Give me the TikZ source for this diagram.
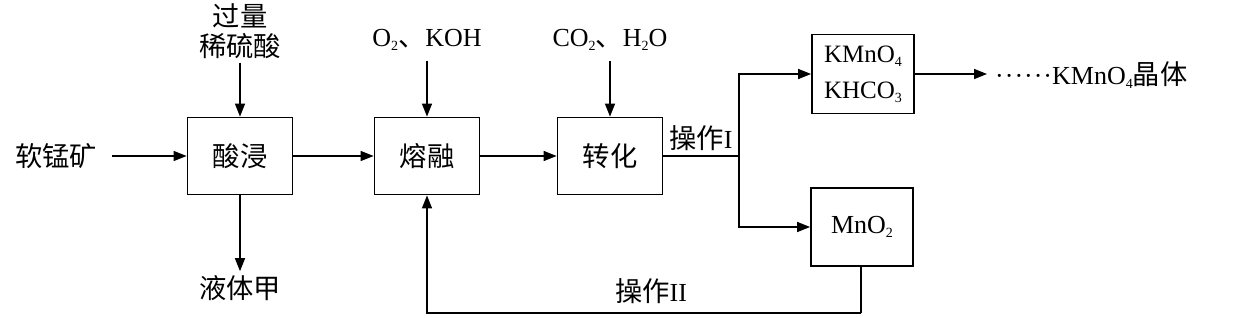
\documentclass[tikz,border=0pt]{standalone}
\usepackage{fontspec}
\setmainfont{Liberation Serif}
\newfontfamily\cjk[Scale=1.05]{Noto Sans CJK SC}
\usetikzlibrary{arrows.meta}
\newcommand\chsub[1]{\raisebox{-0.35ex}{\fontsize{14}{14}\selectfont #1}}
\tikzset{
  procbox/.style={draw, line width=1.8pt, minimum width=105pt, minimum height=77pt, inner sep=0pt, align=center},
  lbl/.style={inner sep=0pt, align=center},
  arr/.style={line width=1.5pt, -{Triangle[length=13pt,width=10pt]}},
  ln/.style={line width=1.5pt}
}
\begin{document}
\begin{tikzpicture}[x=1pt,y=-1pt,font=\fontsize{26}{28}\selectfont]
\useasboundingbox[fill=white] (0,0) rectangle (1244,318);
% boxes
\node[procbox] (b1) at (240,156) {\cjk 酸浸};
\node[procbox] (b2) at (427,156) {\cjk 熔融};
\node[procbox] (b3) at (610,156) {\cjk 转化};
\node[procbox, minimum width=102pt, minimum height=79pt, font=\fontsize{25}{36}\selectfont] (k) at (863,74) {KMnO\chsub{4}\\KHCO\chsub{3}};
\node[procbox, minimum width=102pt, minimum height=78pt] (m) at (862,227) {MnO\chsub{2}};
% labels
\node[lbl] (ore) at (56,156) {\cjk 软锰矿};
\node[lbl] (acid) at (240,31) {\cjk 过量\\[2pt]\cjk 稀硫酸};
\node[lbl] (liq) at (240,288) {\cjk 液体甲};
\node[lbl] (in2) at (427,40) {O\chsub{2}{\cjk 、}KOH};
\node[lbl] (in3) at (610,40) {CO\chsub{2}{\cjk 、}H\chsub{2}O};
\node[lbl] (op1) at (701,138) {{\cjk 操作}I};
\node[lbl] (op2) at (651,291) {{\cjk 操作}II};
\node[lbl, anchor=west] (cry) at (994,75) {\kern1pt·\kern1pt·\kern1pt·\kern1pt·\kern1pt·\kern1pt·KMnO\chsub{4}{\cjk 晶体}};
% coordinates
\coordinate (sp) at (739,156);
\coordinate (mb) at (861,313);
% connectors
\draw[arr, shorten <=15pt] (ore.east) -- (b1.west);
\draw[arr, shorten <=4pt] (acid.south) -- (b1.north);
\draw[arr, shorten >=4pt] (b1.south) -- (liq.north);
\draw[arr] (b1.east) -- (b2.west);
\draw[arr, shorten <=10pt] (in2.south) -- (b2.north);
\draw[arr] (b2.east) -- (b3.west);
\draw[arr, shorten <=10pt] (in3.south) -- (b3.north);
\draw[ln] (b3.east) -- (sp);
\draw[arr] (sp) |- (k.west);
\draw[arr] (sp) |- (m.west);
\draw[arr, shorten >=7pt] (k.east) -- (k.east -| cry.west);
\draw[ln] (m.south -| mb) -- (mb);
\draw[arr] (mb) -| (b2.south);
\end{tikzpicture}
\end{document}
